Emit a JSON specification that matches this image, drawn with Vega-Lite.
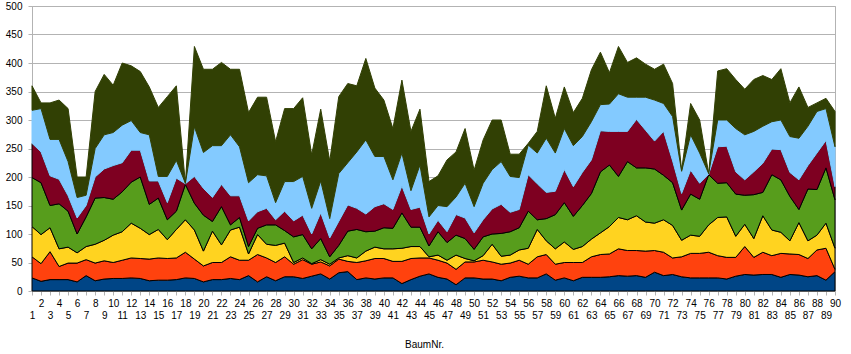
{
  "$schema": "https://vega.github.io/schema/vega-lite/v6.json",
  "width": 803,
  "height": 285,
  "autosize": "none",
  "padding": {"left": 32, "top": 6, "right": 16, "bottom": 63},
  "background": "white",
  "config": {"view": {"stroke": "#b3b3b3", "strokeWidth": 1}, "font": "Liberation Sans"},
  "data": {"values": [
    {"n":1,"S1":23,"S2":37,"S3":53,"S4":86,"S5":60,"S6":58,"S7":43},
    {"n":2,"S1":17,"S2":31,"S3":51,"S4":91,"S5":54,"S6":76,"S7":10},
    {"n":3,"S1":20,"S2":49,"S3":42,"S4":39,"S5":52,"S6":64,"S7":64},
    {"n":4,"S1":20,"S2":23,"S3":31,"S4":79,"S5":43,"S6":70,"S7":69},
    {"n":5,"S1":20,"S2":29,"S3":28,"S4":63,"S5":27,"S6":60,"S7":93},
    {"n":6,"S1":16,"S2":33,"S3":18,"S4":33,"S5":28,"S6":36,"S7":36},
    {"n":7,"S1":27,"S2":28,"S3":23,"S4":52,"S5":20,"S6":18,"S7":32},
    {"n":8,"S1":18,"S2":31,"S3":33,"S4":81,"S5":37,"S6":50,"S7":100},
    {"n":9,"S1":21,"S2":32,"S3":36,"S4":75,"S5":50,"S6":60,"S7":106},
    {"n":10,"S1":22,"S2":28,"S3":48,"S4":63,"S5":59,"S6":58,"S7":83},
    {"n":11,"S1":22,"S2":32,"S3":50,"S4":70,"S5":51,"S6":66,"S7":109},
    {"n":12,"S1":23,"S2":35,"S3":61,"S4":72,"S5":56,"S6":52,"S7":96},
    {"n":13,"S1":22,"S2":35,"S3":53,"S4":90,"S5":47,"S6":31,"S7":107},
    {"n":14,"S1":18,"S2":38,"S3":43,"S4":53,"S5":41,"S6":81,"S7":84},
    {"n":15,"S1":19,"S2":39,"S3":50,"S4":55,"S5":30,"S6":8,"S7":121},
    {"n":16,"S1":19,"S2":38,"S3":33,"S4":35,"S5":30,"S6":46,"S7":140},
    {"n":17,"S1":20,"S2":38,"S3":50,"S4":32,"S5":58,"S6":31,"S7":131},
    {"n":18,"S1":23,"S2":45,"S3":57,"S4":62,"S5":1,"S6":1,"S7":0},
    {"n":19,"S1":22,"S2":34,"S3":51,"S4":47,"S5":47,"S6":87,"S7":141},
    {"n":20,"S1":16,"S2":28,"S3":26,"S4":63,"S5":47,"S6":63,"S7":146},
    {"n":21,"S1":20,"S2":30,"S3":55,"S4":17,"S5":42,"S6":91,"S7":134},
    {"n":22,"S1":20,"S2":30,"S3":31,"S4":67,"S5":39,"S6":68,"S7":146},
    {"n":23,"S1":22,"S2":38,"S3":47,"S4":9,"S5":51,"S6":107,"S7":115},
    {"n":24,"S1":20,"S2":34,"S3":58,"S4":17,"S5":38,"S6":86,"S7":136},
    {"n":25,"S1":27,"S2":27,"S3":11,"S4":13,"S5":45,"S6":67,"S7":123},
    {"n":26,"S1":16,"S2":48,"S3":35,"S4":11,"S5":29,"S6":65,"S7":136},
    {"n":27,"S1":25,"S2":33,"S3":24,"S4":34,"S5":29,"S6":57,"S7":138},
    {"n":28,"S1":18,"S2":32,"S3":30,"S4":36,"S5":9,"S6":30,"S7":107},
    {"n":29,"S1":25,"S2":35,"S3":24,"S4":22,"S5":34,"S6":52,"S7":128},
    {"n":30,"S1":25,"S2":22,"S3":3,"S4":45,"S5":28,"S6":69,"S7":128},
    {"n":31,"S1":22,"S2":33,"S3":3,"S4":41,"S5":34,"S6":68,"S7":138},
    {"n":32,"S1":26,"S2":21,"S3":1,"S4":26,"S5":26,"S6":45,"S7":94},
    {"n":33,"S1":30,"S2":21,"S3":4,"S4":37,"S5":45,"S6":56,"S7":126},
    {"n":34,"S1":21,"S2":23,"S3":3,"S4":13,"S5":33,"S6":34,"S7":101},
    {"n":35,"S1":32,"S2":24,"S3":2,"S4":22,"S5":42,"S6":84,"S7":135},
    {"n":36,"S1":34,"S2":18,"S3":10,"S4":43,"S5":46,"S6":74,"S7":139},
    {"n":37,"S1":20,"S2":30,"S3":8,"S4":50,"S5":37,"S6":99,"S7":116},
    {"n":38,"S1":23,"S2":30,"S3":17,"S4":34,"S5":31,"S6":130,"S7":143},
    {"n":39,"S1":21,"S2":36,"S3":20,"S4":28,"S5":43,"S6":88,"S7":120},
    {"n":40,"S1":23,"S2":34,"S3":17,"S4":37,"S5":42,"S6":83,"S7":99},
    {"n":41,"S1":23,"S2":29,"S3":22,"S4":36,"S5":33,"S6":52,"S7":90},
    {"n":42,"S1":13,"S2":39,"S3":23,"S4":62,"S5":47,"S6":58,"S7":128},
    {"n":43,"S1":20,"S2":37,"S3":21,"S4":34,"S5":31,"S6":33,"S7":104},
    {"n":44,"S1":26,"S2":32,"S3":20,"S4":34,"S5":35,"S6":74,"S7":98},
    {"n":45,"S1":30,"S2":28,"S3":2,"S4":19,"S5":21,"S6":30,"S7":62},
    {"n":46,"S1":24,"S2":30,"S3":9,"S4":41,"S5":20,"S6":26,"S7":52},
    {"n":47,"S1":21,"S2":28,"S3":5,"S4":31,"S5":19,"S6":44,"S7":82},
    {"n":48,"S1":11,"S2":27,"S3":25,"S4":35,"S5":36,"S6":31,"S7":79},
    {"n":49,"S1":23,"S2":28,"S3":6,"S4":35,"S5":36,"S6":61,"S7":96},
    {"n":50,"S1":23,"S2":28,"S3":2,"S4":20,"S5":29,"S6":46,"S7":64},
    {"n":51,"S1":21,"S2":33,"S3":8,"S4":33,"S5":30,"S6":64,"S7":76},
    {"n":52,"S1":21,"S2":30,"S3":31,"S4":18,"S5":44,"S6":69,"S7":87},
    {"n":53,"S1":18,"S2":29,"S3":14,"S4":40,"S5":51,"S6":75,"S7":73},
    {"n":54,"S1":24,"S2":25,"S3":14,"S4":41,"S5":34,"S6":63,"S7":39},
    {"n":55,"S1":26,"S2":28,"S3":18,"S4":39,"S5":32,"S6":56,"S7":41},
    {"n":56,"S1":23,"S2":24,"S3":28,"S4":65,"S5":64,"S6":52,"S7":3},
    {"n":57,"S1":23,"S2":37,"S3":48,"S4":17,"S5":63,"S6":54,"S7":38},
    {"n":58,"S1":30,"S2":34,"S3":24,"S4":39,"S5":46,"S6":95,"S7":92},
    {"n":59,"S1":19,"S2":28,"S3":27,"S4":60,"S5":41,"S6":67,"S7":61},
    {"n":60,"S1":23,"S2":27,"S3":36,"S4":69,"S5":58,"S6":72,"S7":73},
    {"n":61,"S1":18,"S2":32,"S3":23,"S4":58,"S5":52,"S6":72,"S7":58},
    {"n":62,"S1":24,"S2":26,"S3":28,"S4":72,"S5":58,"S6":63,"S7":67},
    {"n":63,"S1":24,"S2":36,"S3":31,"S4":80,"S5":59,"S6":67,"S7":91},
    {"n":64,"S1":24,"S2":40,"S3":38,"S4":107,"S5":72,"S6":46,"S7":92},
    {"n":65,"S1":25,"S2":40,"S3":48,"S4":108,"S5":59,"S6":48,"S7":55},
    {"n":66,"S1":27,"S2":47,"S3":55,"S4":72,"S5":79,"S6":66,"S7":83},
    {"n":67,"S1":26,"S2":45,"S3":54,"S4":102,"S5":53,"S6":60,"S7":61},
    {"n":68,"S1":27,"S2":44,"S3":61,"S4":84,"S5":85,"S6":39,"S7":69},
    {"n":69,"S1":24,"S2":46,"S3":51,"S4":95,"S5":66,"S6":58,"S7":58},
    {"n":70,"S1":33,"S2":38,"S3":48,"S4":95,"S5":49,"S6":72,"S7":54},
    {"n":71,"S1":27,"S2":41,"S3":57,"S4":78,"S5":77,"S6":49,"S7":69},
    {"n":72,"S1":29,"S2":29,"S3":57,"S4":75,"S5":38,"S6":78,"S7":58},
    {"n":73,"S1":25,"S2":35,"S3":29,"S4":53,"S5":29,"S6":39,"S7":2},
    {"n":74,"S1":23,"S2":43,"S3":32,"S4":72,"S5":42,"S6":62,"S7":55},
    {"n":75,"S1":23,"S2":43,"S3":30,"S4":65,"S5":28,"S6":53,"S7":58},
    {"n":76,"S1":23,"S2":45,"S3":48,"S4":88,"S5":1,"S6":1,"S7":0},
    {"n":77,"S1":23,"S2":39,"S3":67,"S4":60,"S5":64,"S6":47,"S7":86},
    {"n":78,"S1":21,"S2":38,"S3":71,"S4":60,"S5":64,"S6":46,"S7":90},
    {"n":79,"S1":26,"S2":33,"S3":37,"S4":74,"S5":39,"S6":76,"S7":86},
    {"n":80,"S1":29,"S2":49,"S3":39,"S4":51,"S5":27,"S6":79,"S7":80},
    {"n":81,"S1":28,"S2":31,"S3":33,"S4":77,"S5":40,"S6":71,"S7":91},
    {"n":82,"S1":29,"S2":39,"S3":64,"S4":41,"S5":51,"S6":65,"S7":89},
    {"n":83,"S1":29,"S2":33,"S3":45,"S4":97,"S5":45,"S6":48,"S7":74},
    {"n":84,"S1":24,"S2":42,"S3":37,"S4":92,"S5":53,"S6":52,"S7":90},
    {"n":85,"S1":29,"S2":36,"S3":23,"S4":78,"S5":42,"S6":63,"S7":59},
    {"n":86,"S1":28,"S2":36,"S3":56,"S4":23,"S5":52,"S6":73,"S7":90},
    {"n":87,"S1":25,"S2":32,"S3":31,"S4":91,"S5":41,"S6":69,"S7":33},
    {"n":88,"S1":27,"S2":45,"S3":26,"S4":80,"S5":64,"S6":73,"S7":15},
    {"n":89,"S1":19,"S2":56,"S3":44,"S4":97,"S5":48,"S6":56,"S7":18},
    {"n":90,"S1":34,"S2":4,"S3":37,"S4":85,"S5":23,"S6":70,"S7":62}
  ]},
  "transform": [{"fold": ["S1","S2","S3","S4","S5","S6","S7"], "as": ["serie","wert"]}],
  "mark": {"type": "area", "interpolate": "linear", "strokeWidth": 1, "strokeJoin": "miter"},
  "encoding": {
    "x": {
      "field": "n", "type": "quantitative",
      "scale": {"domain": [1, 90], "nice": false, "zero": false},
      "axis": {
        "values": [1,2,3,4,5,6,7,8,9,10,11,12,13,14,15,16,17,18,19,20,21,22,23,24,25,26,27,28,29,30,31,32,33,34,35,36,37,38,39,40,41,42,43,44,45,46,47,48,49,50,51,52,53,54,55,56,57,58,59,60,61,62,63,64,65,66,67,68,69,70,71,72,73,74,75,76,77,78,79,80,81,82,83,84,85,86,87,88,89,90],
        "labelOverlap": false,
        "labelFlush": false,
        "labelFontSize": 10,
        "labelColor": "#000000",
        "labelBaseline": "top",
        "labelPadding": {"condition": {"test": "datum.value % 2 === 1", "value": 15}, "value": 3},
        "tickSize": 4,
        "tickColor": "#b3b3b3",
        "domainColor": "#b3b3b3",
        "grid": false,
        "title": "BaumNr.",
        "titleFontSize": 10,
        "titleFontWeight": "normal",
        "titleColor": "#000000",
        "titleBaseline": "middle",
        "titleX": 392,
        "titleY": 53
      }
    },
    "y": {
      "field": "wert", "type": "quantitative", "stack": "zero",
      "scale": {"domain": [0, 500], "nice": false},
      "axis": {
        "values": [0,50,100,150,200,250,300,350,400,450,500],
        "grid": true,
        "gridColor": "#b3b3b3",
        "domainColor": "#b3b3b3",
        "tickColor": "#b3b3b3",
        "tickSize": 4,
        "labelPadding": 6,
        "labelFontSize": 10,
        "labelColor": "#000000",
        "title": null
      }
    },
    "color": {
      "field": "serie", "type": "nominal",
      "scale": {"domain": ["S1","S2","S3","S4","S5","S6","S7"], "range": ["#004586","#ff420e","#ffd320","#579d1c","#7e0021","#83caff","#314004"]},
      "legend": null
    },
    "stroke": {
      "field": "serie", "type": "nominal",
      "scale": {"domain": ["S1","S2","S3","S4","S5","S6","S7"], "range": ["#000000","#000000","#000000","#000000","#000000","#83caff","#314004"]},
      "legend": null
    },
    "order": {"field": "serie", "sort": "ascending"}
  }
}
